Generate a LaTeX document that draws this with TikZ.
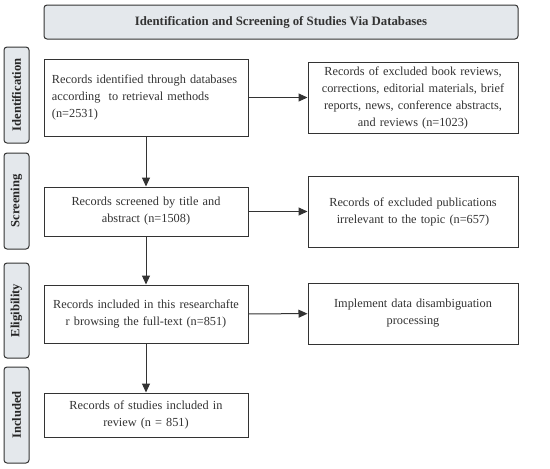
\documentclass[tikz,border=0pt]{standalone}
\usepackage{fontspec}
\setmainfont{Liberation Serif}
\usetikzlibrary{arrows.meta}
\definecolor{edge}{HTML}{333333}
\definecolor{headfill}{HTML}{E4E8EC}
\begin{document}
\begin{tikzpicture}[x=1pt,y=-1pt,
  box/.style={draw=edge,line width=1pt,fill=white,inner sep=0pt,align=center,
    font=\fontsize{12.3}{17}\selectfont,text=black!80},
  side/.style={draw=edge,line width=1pt,fill=headfill,rounded corners=3pt,inner sep=0pt,
    minimum width=25pt,font=\bfseries\fontsize{12.6}{14}\selectfont,rotate=90,text=black!85},
  conn/.style={draw=edge,line width=1pt,-{Triangle[length=9pt,width=8pt]}}]
\useasboundingbox (0,0) rectangle (550,469);
\node[box,fill=headfill,rounded corners=3pt,minimum width=474pt,minimum height=34pt,
  font=\bfseries\fontsize{12.8}{14}\selectfont] (title) at (281,22)
  {Identification and Screening of Studies Via Databases};
\node[side,minimum width=96pt,minimum height=25pt] (s1) at (16.5,95) {Identification};
\node[side,minimum width=96pt,minimum height=25pt] (s2) at (16.5,201) {Screening};
\node[side,minimum width=95pt,minimum height=25pt] (s3) at (16.5,310.5) {Eligibility};
\node[side,minimum width=96pt,minimum height=25pt] (s4) at (16.5,415) {Included};
\node[box,minimum width=204pt,minimum height=77pt,text width=188pt,align=left] (a) at (146,97.5)
  {\mbox{Records identified through databases}\\\mbox{according\ \ to retrieval methods}\\(n=2531)};
\node[box,minimum width=210pt,minimum height=71pt,text width=205pt] (b) at (413,97.5)
  {Records of excluded book reviews,\\corrections, editorial materials, brief\\reports, news, conference abstracts,\\and reviews (n=1023)};
\node[box,minimum width=204pt,minimum height=49pt,text width=200pt] (c) at (146,211.5)
  {Records screened by title and\\abstract (n=1508)};
\node[box,minimum width=210pt,minimum height=71pt,text width=205pt] (d) at (413,211.5)
  {Records of excluded publications\\irrelevant to the topic (n=657)};
\node[box,minimum width=204pt,minimum height=58pt,text width=200pt] (e) at (146,314)
  {Records included in this researchafte\\r browsing the full-text (n=851)};
\node[box,minimum width=210pt,minimum height=61pt,text width=205pt] (f) at (413,313.5)
  {Implement data disambiguation\\processing};
\node[box,minimum width=204pt,minimum height=44pt,text width=200pt] (g) at (146,415)
  {Records of studies included in\\review (n = 851)};
\draw[conn] (a) -- (b);
\draw[conn] (c) -- (d);
\draw[conn] (e) -- (f);
\draw[conn] (a) -- (c);
\draw[conn] (c) -- (e);
\draw[conn] (e) -- (g);
\end{tikzpicture}
\end{document}
